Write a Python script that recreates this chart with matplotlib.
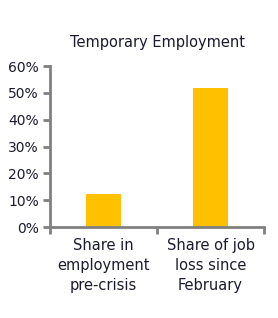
import matplotlib
matplotlib.use("Agg")
import matplotlib.pyplot as plt
from matplotlib.ticker import PercentFormatter

categories = ["Share in\nemployment\npre-crisis", "Share of job\nloss since\nFebruary"]
values = [12.2, 52.0]
title = "Temporary Employment"

TEXT = "#1b1b2f"
SPINE = "#808080"
BAR = "#FFC000"


def main() -> None:
    plt.rcParams["font.family"] = ["DejaVu Sans"]
    fig = plt.figure(figsize=(2.78, 3.18), dpi=100)
    ax = fig.add_axes([0.18, 0.286, 0.77, 0.506])

    x = list(range(len(categories)))
    ax.bar(x, values, width=0.32, color=BAR)

    ax.set_xlim(-0.5, len(categories) - 0.5)
    ax.set_ylim(0, 60)
    ax.set_yticks(range(0, 61, 10))
    ax.yaxis.set_major_formatter(PercentFormatter(decimals=0))

    ax.set_xticks([i - 0.5 for i in range(len(categories) + 1)])
    ax.set_xticklabels([])
    ax.set_xticks(x, minor=True)
    ax.set_xticklabels(categories, minor=True, linespacing=1.42)
    ax.tick_params(axis="x", which="major", length=5, width=2, color=SPINE, direction="out")
    ax.tick_params(axis="x", which="minor", length=0, pad=8, labelsize=10.5, labelcolor=TEXT)
    ax.tick_params(axis="y", length=5, width=2, color=SPINE, labelsize=10, labelcolor=TEXT, pad=3)

    for side in ("top", "right"):
        ax.spines[side].set_visible(False)
    for side in ("left", "bottom"):
        ax.spines[side].set_color(SPINE)
        ax.spines[side].set_linewidth(2)

    ax.set_title(title, fontsize=10.5, color=TEXT, pad=14)

    fig.savefig("out.png", dpi=100)
    plt.close(fig)


if __name__ == "__main__":
    main()
